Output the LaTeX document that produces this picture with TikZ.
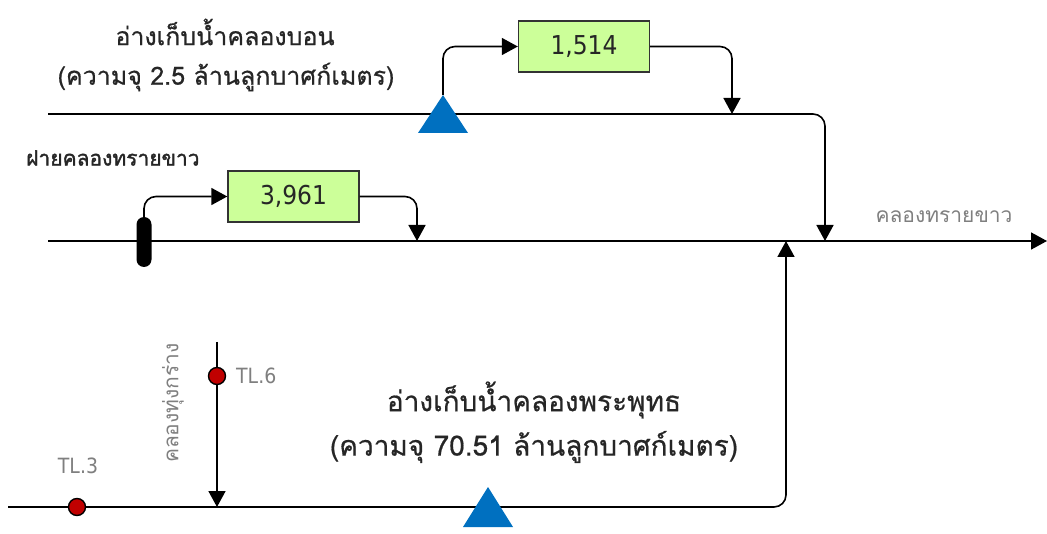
\documentclass[tikz,border=0pt]{standalone}
\usepackage{fontspec}
\setmainfont{DejaVu Sans}
\newfontfamily\thai[Script=Thai, FakeBold=0.6]{Loma}
\newfontfamily\thail[Script=Thai]{Loma}
\newfontfamily\thaib[Script=Thai, FakeBold=1.6]{Loma}
\newfontfamily\numf{DejaVu Sans Condensed}
\usetikzlibrary{arrows.meta}
\definecolor{boxgreen}{HTML}{CCFF99}
\definecolor{damblue}{HTML}{0070C0}
\definecolor{dotred}{HTML}{C00000}
\definecolor{lbgrey}{HTML}{7F7F7F}
\tikzset{
  riverline/.style={line width=1.6pt, black},
  tip/.style={-{Triangle[width=17pt,length=16pt]}},
  flow/.style={line width=1.6pt, black, rounded corners=12pt, tip},
  vbox/.style={draw=black!80, line width=1.4pt, fill=boxgreen, minimum width=131pt, minimum height=51pt, inner sep=0pt, font=\numf\fontsize{26}{28}\selectfont, text=black!85},
  gauge/.style={circle, draw=black, line width=1.4pt, fill=dotred, minimum size=17pt, inner sep=0pt},
  glabel/.style={text=lbgrey, inner sep=0pt},
  title/.style={inner sep=0pt, text=black!85},
}
\begin{document}
\begin{tikzpicture}[x=1pt,y=-1pt]
\useasboundingbox (0,0) rectangle (1047,534);

% coordinates
\coordinate (topL) at (48,114);
\coordinate (mainL) at (48,241);
\coordinate (mainR) at (1047,241);
\coordinate (botL) at (8,507);
\coordinate (j1) at (417,241);
\coordinate (j2) at (732,114);
\coordinate (j3) at (825,241);
\coordinate (j4) at (786,241);
\coordinate (j5) at (217,507);
\coordinate (tl6top) at (217,342);
\coordinate (damA) at (443,95);
\coordinate (damB) at (488,487);

% main lines
\draw[riverline] (topL) -- (j2);
\draw[flow] (j2) -| (j3);
\draw[riverline, tip] (mainL) -- (mainR);
\draw[flow] (botL) -| (j4);
\draw[flow] (tl6top) -- (j5);

% boxes
\node[vbox] (b1) at (584,46.5) {1,514};
\node[vbox] (b2) at (293.5,196.5) {3,961};

% weir
\node[fill=black, rounded corners=7.5pt, minimum width=15pt, minimum height=50pt, inner sep=0pt] (weir) at (144,242) {};

% bypass flows
\draw[flow] (damA) |- (b1.west);
\draw[flow] (b1.east) -| (j2);
\draw[flow] (weir.north) |- (b2.west);
\draw[flow] (b2.east) -| (j1);

% dams
\fill[damblue] (damA) -- ++(25,38) -- ++(-50,0) -- cycle;
\fill[damblue] (damB) -- ++(25,40) -- ++(-50,0) -- cycle;

% gauges
\node[gauge] (tl3) at (77,507) {};
\node[gauge] (tl6) at (217,376) {};
\node[glabel, font=\numf\fontsize{21}{24}\selectfont] at (78,466) {TL.3};
\node[glabel, font=\numf\fontsize{21}{24}\selectfont, anchor=west] at (236,376) {TL.6};

% texts
\node[title, font=\thai\fontsize{25}{28}\selectfont] (t1) at (225,32) {อ่างเก็บน้ำคลองบอน};
\node[title, font=\thai\fontsize{25}{28}\selectfont] (t2) at (226,77) {(ความจุ 2.5 ล้านลูกบาศก์เมตร)};
\node[title, font=\thaib\fontsize{21}{24}\selectfont, anchor=west] (t3) at (26,158) {ฝายคลองทรายขาว};
\node[glabel, font=\thail\fontsize{21}{24}\selectfont] (t4) at (944,217) {คลองทรายขาว};
\node[title, font=\thai\fontsize{28}{32}\selectfont] (t5) at (534,400) {อ่างเก็บน้ำคลองพระพุทธ};
\node[title, font=\thai\fontsize{28}{32}\selectfont] (t6) at (534,447) {(ความจุ 70.51 ล้านลูกบาศก์เมตร)};
\node[glabel, font=\thail\fontsize{21}{24}\selectfont, rotate=90] (t7) at (173,403) {คลองทุ่งกร่าง};
\end{tikzpicture}
\end{document}
